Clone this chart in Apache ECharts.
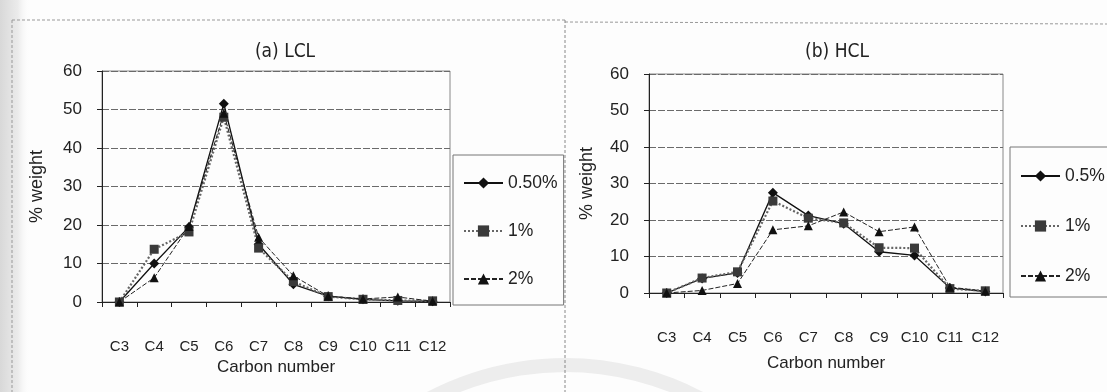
<!DOCTYPE html>
<html>
<head>
<meta charset="utf-8">
<script src="https://cdn.jsdelivr.net/npm/echarts@6/dist/echarts.min.js"></script>
<style>
html,body{margin:0;padding:0;background:#fdfdfd;}
#c{width:1107px;height:392px;}
</style>
</head>
<body>
<div id="c"></div>
<script>
// ---- data ----
var categories = ['C3','C4','C5','C6','C7','C8','C9','C10','C11','C12'];
var yTicks = [0, 10, 20, 30, 40, 50, 60];
var titles = ['(a) LCL', '(b) HCL'];
var legendA = ['0.50%', '1%', '2%'];
var legendB = ['0.5%', '1%', '2%'];
var lcl05 = [0, 10, 19.5, 51.5, 15, 4.6, 1.5, 0.7, 0.3, 0.2];
var lcl1  = [0, 13.7, 18.2, 48, 14, 5.3, 1.4, 0.7, 0.4, 0.3];
var lcl2  = [0, 6.3, 19.6, 49, 16.8, 6.8, 1.5, 0.8, 1.3, 0.2];
var hcl05 = [0, 4, 5.5, 27.5, 21.2, 19, 11.3, 10.3, 1.4, 0.4];
var hcl1  = [0, 4.1, 5.8, 25.2, 20.5, 19.2, 12.4, 12.3, 1.2, 0.6];
var hcl2  = [0, 0.7, 2.6, 17.3, 18.4, 22.2, 16.8, 18.1, 1.6, 0.5];

var FONT = "'Liberation Sans', Arial, sans-serif";
var chart = echarts.init(document.getElementById('c'), null, {renderer: 'canvas'});

function xAxis(gi, labelMargin, nameGap) {
  return {
    type: 'category', gridIndex: gi, data: categories, boundaryGap: true,
    axisLine: {show: true, lineStyle: {color: '#222', width: 1}},
    axisTick: {show: true, length: 5, interval: 0, lineStyle: {color: '#222'}},
    axisLabel: {margin: labelMargin, interval: 0, color: '#222', fontSize: 15, fontFamily: FONT},
    name: 'Carbon number', nameLocation: 'middle', nameGap: nameGap,
    nameTextStyle: {color: '#222', fontSize: 17, fontFamily: FONT},
    splitLine: {show: false}
  };
}
function yAxis(gi, nameGap) {
  return {
    type: 'value', gridIndex: gi, min: yTicks[0], max: yTicks[yTicks.length - 1], interval: 10,
    axisLine: {show: true, lineStyle: {color: '#222', width: 1}},
    axisTick: {show: true, length: 5, lineStyle: {color: '#222'}},
    axisLabel: {margin: 20, color: '#222', fontSize: 17, fontFamily: FONT},
    splitLine: {show: true, lineStyle: {color: '#6a6a6a', width: 1, type: [7, 2]}},
    name: '% weight', nameLocation: 'middle', nameGap: nameGap, nameRotate: 90,
    nameTextStyle: {color: '#222', fontSize: 18, fontFamily: FONT}
  };
}
var styles = [
  {symbol: 'diamond', symbolSize: 10, lineStyle: {color: '#111', width: 1.3, type: 'solid'}, itemStyle: {color: '#111'}},
  {symbol: 'rect', symbolSize: 9, lineStyle: {color: '#666', width: 2.2, type: [2, 2]}, itemStyle: {color: '#3a3a3a'}},
  {symbol: 'triangle', symbolSize: 9, lineStyle: {color: '#222', width: 1, type: [5, 2]}, itemStyle: {color: '#111'}}
];
function mk(name, data, gi, k) {
  var s = styles[k];
  return {
    name: name, type: 'line', xAxisIndex: gi, yAxisIndex: gi, data: data,
    symbol: s.symbol, symbolSize: s.symbolSize, showAllSymbol: true,
    lineStyle: s.lineStyle, itemStyle: s.itemStyle, animation: false,
    emphasis: {disabled: true}
  };
}
function legend(names, left, top, pad, gap) {
  return {
    orient: 'vertical', left: left, top: top, data: names,
    itemWidth: 39, itemHeight: 14, itemGap: gap,
    padding: pad,
    borderColor: '#777', borderWidth: 1,
    textStyle: {color: '#222', fontSize: 17.5, fontFamily: FONT},
    selectedMode: false
  };
}

var option = {
  backgroundColor: '#fdfdfd',
  animation: false,
  title: [
    {text: titles[0], left: 280, top: 38, textAlign: 'center',
     textStyle: {fontFamily: "'Liberation Sans Narrow', 'DejaVu Sans Condensed', sans-serif", fontWeight: 'normal', fontSize: 19, color: '#222'}},
    {text: titles[1], left: 832, top: 38, textAlign: 'center',
     textStyle: {fontFamily: "'Liberation Sans Narrow', 'DejaVu Sans Condensed', sans-serif", fontWeight: 'normal', fontSize: 19, color: '#222'}}
  ],
  grid: [
    {left: 102, top: 71, width: 348, height: 231, show: true, borderColor: '#888', borderWidth: 1, backgroundColor: 'transparent'},
    {left: 649, top: 74, width: 354, height: 219, show: true, borderColor: '#888', borderWidth: 1, backgroundColor: 'transparent'}
  ],
  xAxis: [xAxis(0, 37, 53), xAxis(1, 37, 62)],
  yAxis: [yAxis(0, 56), yAxis(1, 53)],
  legend: [
    legend(legendA, 453, 155, [19, 6, 17, 10], 30),
    legend(legendB, 1010, 147, [20, 30, 12, 10], 32)
  ],
  series: [
    mk(legendA[0], lcl05, 0, 0), mk(legendA[1], lcl1, 0, 1), mk(legendA[2], lcl2, 0, 2),
    mk(legendB[0], hcl05, 1, 0), mk(legendB[1], hcl1, 1, 1), mk(legendB[2], hcl2, 1, 2)
  ],
  graphic: [
    {type: 'rect', z: -10, shape: {x: 0, y: 0, width: 30, height: 392},
     style: {fill: new echarts.graphic.LinearGradient(0, 0, 1, 0, [{offset: 0, color: '#d8d8d8'}, {offset: 0.6, color: '#ebebeb'}, {offset: 1, color: 'rgba(253,253,253,0)'}])}},
    {type: 'arc', z: -9, shape: {cx: 565, cy: 655, r: 290, startAngle: Math.PI * 1.2, endAngle: Math.PI * 1.8},
     style: {stroke: '#ededed', lineWidth: 14, fill: null}},
    {type: 'line', shape: {x1: 12, y1: 20, x2: 565, y2: 20}, style: {stroke: '#999', lineWidth: 1, lineDash: [3, 2]}},
    {type: 'line', shape: {x1: 565, y1: 22, x2: 1107, y2: 24}, style: {stroke: '#999', lineWidth: 1, lineDash: [3, 2]}},
    {type: 'line', shape: {x1: 12, y1: 20, x2: 12, y2: 392}, style: {stroke: '#999', lineWidth: 1, lineDash: [3, 2]}},
    {type: 'line', shape: {x1: 565, y1: 20, x2: 565, y2: 392}, style: {stroke: '#888', lineWidth: 1, lineDash: [3, 2]}}
  ]
};
chart.setOption(option);
</script>
</body>
</html>
